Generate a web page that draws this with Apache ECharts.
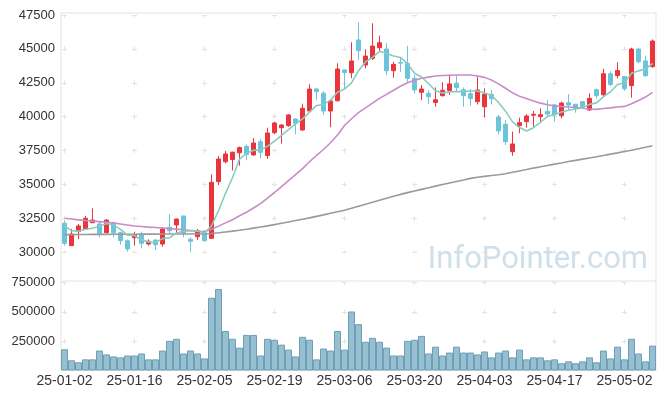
<!DOCTYPE html>
<html>
<head>
<meta charset="utf-8">
<script src="https://cdn.jsdelivr.net/npm/echarts@6/dist/echarts.min.js"></script>
<style>
  html, body { margin: 0; padding: 0; background: #fff; }
  #main { width: 665px; height: 399px; }
</style>
</head>
<body>
<div id="main"></div>
<script>
// trading days shown on the chart
var dates = ['25-01-02','25-01-03','25-01-06','25-01-07','25-01-08','25-01-09','25-01-10','25-01-13','25-01-14','25-01-15',
  '25-01-16','25-01-17','25-01-20','25-01-21','25-01-22','25-01-23','25-01-24','25-01-31','25-02-03','25-02-04',
  '25-02-05','25-02-06','25-02-07','25-02-10','25-02-11','25-02-12','25-02-13','25-02-14','25-02-17','25-02-18',
  '25-02-19','25-02-20','25-02-21','25-02-24','25-02-25','25-02-26','25-02-27','25-02-28','25-03-04','25-03-05',
  '25-03-06','25-03-07','25-03-10','25-03-11','25-03-12','25-03-13','25-03-14','25-03-17','25-03-18','25-03-19',
  '25-03-20','25-03-21','25-03-24','25-03-25','25-03-26','25-03-27','25-03-28','25-03-31','25-04-01','25-04-02',
  '25-04-03','25-04-04','25-04-07','25-04-08','25-04-09','25-04-10','25-04-11','25-04-14','25-04-15','25-04-16',
  '25-04-17','25-04-18','25-04-21','25-04-22','25-04-23','25-04-24','25-04-25','25-04-28','25-04-29','25-04-30',
  '25-05-02','25-05-07','25-05-08','25-05-09','25-05-12'];

var opens = [32140,30490,31525,31700,32180,32090,31445,32140,31445,30855,
  31075,31350,30610,30905,30610,31845,32015,32680,30960,31150,
  31445,31030,35210,36680,36840,37340,37820,37180,38160,37130,
  38820,39190,39340,39830,39020,40420,42040,41730,40420,41180,
  43450,43250,45660,43810,44300,45090,44990,43390,44000,43940,
  42830,41800,41730,41050,41550,41930,42470,41990,41700,41110,
  40730,41650,39980,39440,37420,39340,39630,40110,40000,40400,
  40870,40070,41030,40920,41110,40490,41990,41620,43170,43030,
  42970,42290,44990,44110,43690];
var closes = [30660,31350,31945,32510,32380,31400,32380,31445,30855,30245,
  31275,30665,30810,30560,31720,31590,32455,31400,30810,31590,
  30855,35160,36880,37250,37380,37720,37210,38060,37370,38800,
  39540,39390,40130,39510,40620,42040,41850,40420,41160,43520,
  43250,44110,44870,44470,45210,45460,43390,43860,43950,42830,
  41970,42040,41480,41250,41950,42420,42160,41550,41350,41970,
  41670,41320,38950,38160,37990,39560,40050,40180,40150,40200,
  40150,41010,40860,40620,40730,41350,41550,43170,42380,43400,
  42060,44990,44060,43020,45580];
var lows = [30490,30490,30960,31650,32180,31105,31400,31105,30560,30045,
  30490,30295,30490,30170,30415,31400,31400,31105,30020,30910,
  30780,30980,34960,36560,36030,36390,36790,37130,36940,36880,
  38700,38010,39260,38700,38950,40290,41230,40130,39220,41110,
  42050,42840,44180,43570,44180,44800,43080,42870,43310,42460,
  41720,41230,40920,40740,41480,41600,41800,40740,40810,40900,
  39960,40900,38700,37910,37120,38780,39190,39260,39630,40050,
  39630,39880,40420,40300,40570,40420,41350,41480,42260,42820,
  41910,41400,43940,42950,43610];
var highs = [32330,31720,32090,32680,33245,32255,32430,32255,31520,30960,
  31520,31520,30960,30960,31845,32825,32500,32680,31105,31720,
  31650,35750,37100,37470,37420,37800,37950,38430,38360,39190,
  39630,39450,40180,39880,40960,42390,42100,41900,41300,43940,
  43500,45490,46960,44970,46890,45980,45410,44050,44410,45230,
  43080,42340,41970,42160,42540,43080,43030,42160,42040,42980,
  42090,41970,40130,39760,38900,39930,40180,40420,40620,41230,
  40940,41110,41650,40920,41160,41720,42090,43540,43340,44020,
  42970,45090,45090,44500,45700];

// moving averages as drawn (5, 20 and long-term)
var ma5 = [31950,31600,31550,31700,31770,31920,32120,32020,31690,31270,
  31240,30900,30770,30710,31010,31070,31430,31550,31600,31570,
  31420,31960,33060,34350,35500,36880,37290,37520,37550,37830,
  38200,38630,39050,39470,39840,40340,40830,40890,41220,41800,
  42040,42490,43380,44040,44380,44820,44680,44480,44370,43900,
  43200,42930,42450,41910,41740,41830,41850,41870,41890,41890,
  41740,41570,41050,40410,39620,39200,38940,39190,39590,40030,
  40150,40340,40470,40570,40670,40910,41020,41480,41840,42370,
  42510,43200,43380,43510,43940];
var ma20 = [32510,32450,32390,32340,32300,32260,32220,32170,32090,32010,
  31940,31900,31860,31830,31790,31750,31710,31660,31610,31560,
  31520,31700,31930,32170,32400,32700,32950,33270,33590,34000,
  34410,34840,35290,35730,36170,36680,37140,37580,38080,38650,
  39350,39850,40300,40650,41000,41350,41650,41950,42250,42500,
  42680,42830,42920,43000,43040,43060,43075,43080,43075,43000,
  42900,42700,42420,42100,41760,41500,41340,41160,41000,40880,
  40800,40750,40710,40680,40620,40570,40540,40600,40650,40720,
  40760,40950,41200,41450,41800];
var maLong = [31300,31300,31310,31310,31320,31320,31320,31330,31330,31330,
  31330,31340,31340,31340,31350,31350,31350,31350,31350,31350,
  31350,31390,31440,31500,31560,31630,31700,31780,31860,31950,
  32040,32140,32240,32340,32440,32540,32650,32760,32880,32990,
  33100,33250,33400,33550,33690,33840,33980,34130,34270,34400,
  34520,34640,34760,34880,35000,35110,35220,35330,35450,35530,
  35600,35660,35720,35790,35900,36000,36100,36210,36310,36400,
  36500,36590,36690,36780,36870,36960,37050,37140,37240,37330,
  37430,37530,37640,37750,37860];

var volumes = [181000,87000,70000,95000,95000,170000,137000,120000,112000,128000,
  128000,145000,95000,95000,170000,253000,270000,145000,170000,145000,
  103000,620000,695000,337000,270000,195000,303000,303000,128000,270000,
  262000,220000,178000,120000,287000,262000,95000,187000,170000,337000,
  178000,503000,395000,245000,278000,245000,195000,128000,128000,253000,
  262000,295000,145000,203000,128000,153000,203000,153000,153000,137000,
  162000,112000,153000,170000,112000,178000,95000,112000,112000,87000,
  95000,62000,78000,62000,78000,112000,70000,170000,103000,203000,
  95000,270000,145000,78000,212000];

var priceTicks = [30000, 47500, 2500];
var volumeTicks = [0, 750000, 250000];

var candles = [];
for (var i = 0; i < dates.length; i++) {
  candles.push([opens[i], closes[i], lows[i], highs[i]]);
}

// plain numbers, no thousands separator
function plain(v) { return String(v); }

var crossColor = '#e3e3e3';
var chart = echarts.init(document.getElementById('main'));
var option = {
  animation: false,
  backgroundColor: '#fff',
  grid: [
    {left: 61, right: 9, top: 15, height: 237.3},
    {left: 61, right: 9, top: 282.5, height: 88}
  ],
  xAxis: [
    {
      type: 'category', gridIndex: 0, data: dates, boundaryGap: true,
      axisLine: {show: false}, axisTick: {show: false}, axisLabel: {show: false},
      splitLine: {show: true, interval: 9, alignWithLabel: true,
        lineStyle: {color: crossColor, width: 1, type: [5, 28.9], dashOffset: 2.5}}
    },
    {
      type: 'category', gridIndex: 1, data: dates, boundaryGap: true,
      axisLine: {show: false}, axisTick: {show: false},
      axisLabel: {interval: 9, color: '#333', fontSize: 14, fontFamily: 'Liberation Sans', margin: 4},
      splitLine: {show: true, interval: 9, alignWithLabel: true,
        lineStyle: {color: crossColor, width: 1, type: [5, 24.33], dashOffset: 2.5}}
    }
  ],
  yAxis: [
    {
      type: 'value', gridIndex: 0, scale: true,
      min: priceTicks[0], max: priceTicks[1], interval: priceTicks[2],
      axisLine: {show: false}, axisTick: {show: false},
      axisLabel: {color: '#333', fontSize: 13, fontFamily: 'Liberation Sans', margin: 6, formatter: plain},
      splitLine: {lineStyle: {color: crossColor, width: 1, type: [5, 65], dashOffset: 69}}
    },
    {
      type: 'value', gridIndex: 1,
      min: volumeTicks[0], max: volumeTicks[1], interval: volumeTicks[2],
      axisLine: {show: false}, axisTick: {show: false},
      axisLabel: {color: '#333', fontSize: 13, fontFamily: 'Liberation Sans', margin: 6,
        showMinLabel: false, formatter: plain},
      splitLine: {lineStyle: {color: crossColor, width: 1, type: [5, 65], dashOffset: 69}}
    }
  ],
  graphic: [
    {type: 'rect', silent: true, z: 0,
      shape: {x: 61, y: 13, width: 595, height: 357.5},
      style: {fill: 'none', stroke: '#e2e2e2', lineWidth: 1}},
    {type: 'line', silent: true, z: 0,
      shape: {x1: 61, y1: 281, x2: 656, y2: 281},
      style: {stroke: '#e2e2e2', lineWidth: 1}},
    {type: 'text', silent: true, z: 0,
      style: {text: 'InfoPointer.com', x: 648, y: 276, align: 'right', verticalAlign: 'bottom',
        font: '31px Roboto', fill: '#cfe0ea'}}
  ],
  series: [
    {
      name: 'price', type: 'candlestick', xAxisIndex: 0, yAxisIndex: 0,
      data: candles, barWidth: 5, clip: false,
      itemStyle: {color: '#ea353c', borderColor: '#ea353c', color0: '#6cc4da', borderColor0: '#6cc4da', borderWidth: 1}
    },
    {
      name: 'MA long', type: 'line', xAxisIndex: 0, yAxisIndex: 0, data: maLong,
      symbol: 'none', lineStyle: {color: '#9a9a9a', width: 1.6}
    },
    {
      name: 'MA20', type: 'line', xAxisIndex: 0, yAxisIndex: 0, data: ma20,
      symbol: 'none', lineStyle: {color: '#c88cc6', width: 1.6}
    },
    {
      name: 'MA5', type: 'line', xAxisIndex: 0, yAxisIndex: 0, data: ma5,
      symbol: 'none', lineStyle: {color: '#8acbbf', width: 1.6}
    },
    {
      name: 'volume', type: 'bar', xAxisIndex: 1, yAxisIndex: 1, data: volumes,
      barWidth: '100%',
      itemStyle: {color: '#96bfd1', borderColor: '#6e9fb5', borderWidth: 1}
    }
  ]
};
chart.setOption(option);
</script>
</body>
</html>
